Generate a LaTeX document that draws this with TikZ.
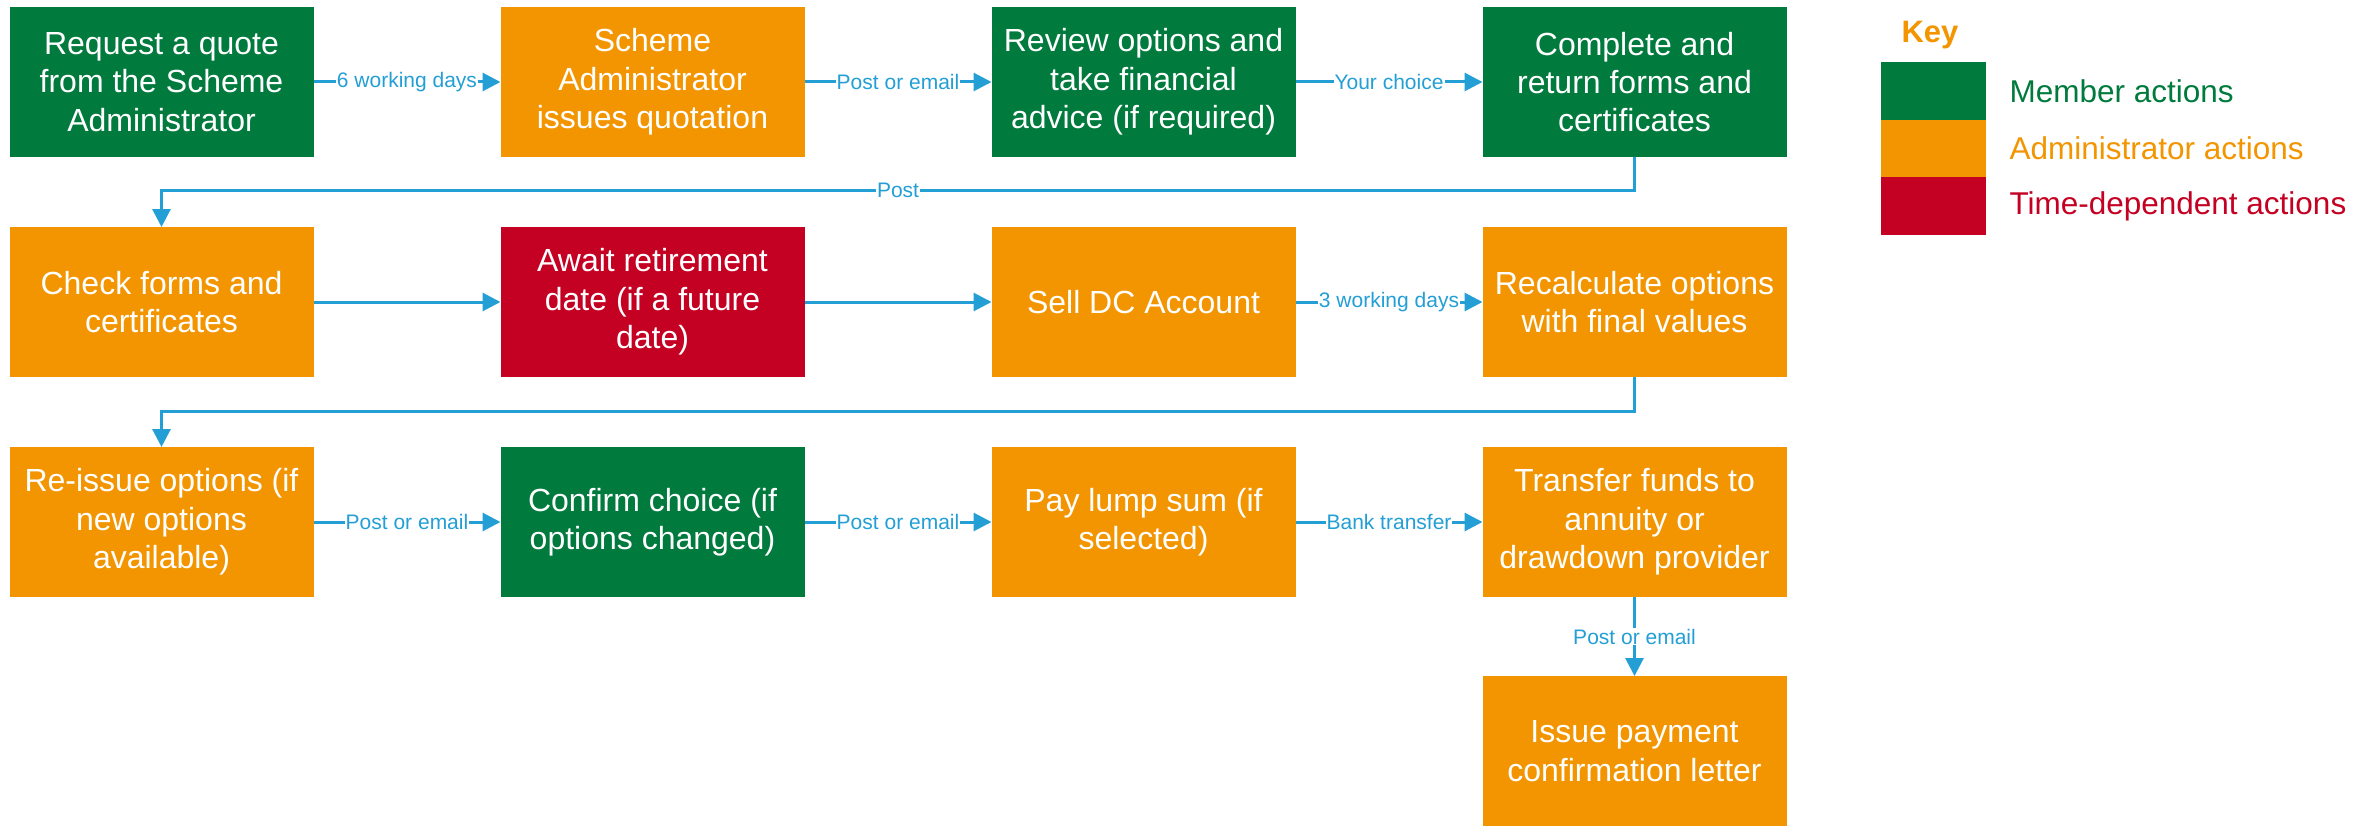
\documentclass[tikz,border=0pt]{standalone}
\usepackage{fontspec}
\setmainfont{Liberation Sans}
\usetikzlibrary{arrows.meta,positioning}
\definecolor{membergreen}{RGB}{0,122,61}
\definecolor{adminorange}{RGB}{242,149,0}
\definecolor{timered}{RGB}{196,0,35}
\definecolor{flowblue}{RGB}{35,159,214}

\begin{document}
\begin{tikzpicture}[x=1pt,y=-1pt,
					node distance=491pt,
					action node/.style={rectangle,minimum width=304pt,minimum height=150pt,
						inner sep=0pt,outer sep=0pt,align=center,text=white,
						font=\fontsize{32}{38.3}\selectfont},
					member node/.style={action node,fill=membergreen},
					admin node/.style={action node,fill=adminorange},
					time node/.style={action node,fill=timered},
					flow/.style={draw=flowblue,line width=3pt,-{Triangle[length=18pt,width=18pt]}},
					flow label/.style={fill=white,text=flowblue,inner sep=1pt,
						font=\fontsize{21}{24}\selectfont},
					key box/.style={rectangle,minimum width=105pt,minimum height=57.7pt,
						inner sep=0pt,outer sep=0pt},
					key text/.style={anchor=west,font=\fontsize{31.5}{36}\selectfont}]
  \useasboundingbox (0,0) rectangle (2371,832);

  % row 1
  \node[member node] (Request) at (161.5,82) {Request a quote\\from the Scheme\\Administrator};
  \node[admin node] (Quote) [right of=Request] {Scheme\\Administrator\\issues quotation};
  \node[member node] (Review) [right of=Quote] {Review options and\\take financial\\advice (if required)};
  \node[member node] (Return) [right of=Review] {Complete and\\return forms and\\certificates};

  % row 2
  \node[admin node] (Check) [below of=Request,node distance=220pt] {Check forms and\\certificates};
  \node[time node] (Await) [right of=Check] {Await retirement\\date (if a future\\date)};
  \node[admin node] (Sell) [right of=Await] {Sell DC Account};
  \node[admin node] (Recalc) [right of=Sell] {Recalculate options\\with final values};

  % row 3
  \node[admin node] (Reissue) [below of=Check,node distance=220pt] {Re-issue options (if\\new options\\available)};
  \node[member node] (Confirm) [right of=Reissue] {Confirm choice (if\\options changed)};
  \node[admin node] (Lump) [right of=Confirm] {Pay lump sum (if\\selected)};
  \node[admin node] (Transfer) [right of=Lump] {Transfer funds to\\annuity or\\drawdown provider};

  % row 4
  \node[admin node] (Letter) [below of=Transfer,node distance=229pt] {Issue payment\\confirmation letter};

  \path[every node/.style={flow label}]
    (Request) edge[flow] node {6 working days} (Quote)
    (Quote) edge[flow] node {Post or email} (Review)
    (Review) edge[flow] node {Your choice} (Return)
    (Check) edge[flow] (Await)
    (Await) edge[flow] (Sell)
    (Sell) edge[flow] node {3 working days} (Recalc)
    (Reissue) edge[flow] node {Post or email} (Confirm)
    (Confirm) edge[flow] node {Post or email} (Lump)
    (Lump) edge[flow] node {Bank transfer} (Transfer)
    (Transfer) edge[flow] node {Post or email} (Letter);

  \draw[flow] (Return.south) -- ++(0,33) -| node[flow label,pos=0.25] {Post} (Check.north);
  \draw[flow] (Recalc.south) -- ++(0,34) -| (Reissue.north);

  % key
  \node[text=adminorange,font=\bfseries\fontsize{31}{36}\selectfont] (Key) at (1930,35) {Key};
  \node[key box,fill=membergreen] (KeyMember) at (1933.5,90.8) {};
  \node[key box,fill=adminorange,below=0pt of KeyMember] (KeyAdmin) {};
  \node[key box,fill=timered,below=0pt of KeyAdmin] (KeyTime) {};
  \node[key text,text=membergreen,right=20pt of KeyMember] {Member actions};
  \node[key text,text=adminorange,right=20pt of KeyAdmin] {Administrator actions};
  \node[key text,text=timered,right=20pt of KeyTime] {Time-dependent actions};
\end{tikzpicture}
\end{document}
